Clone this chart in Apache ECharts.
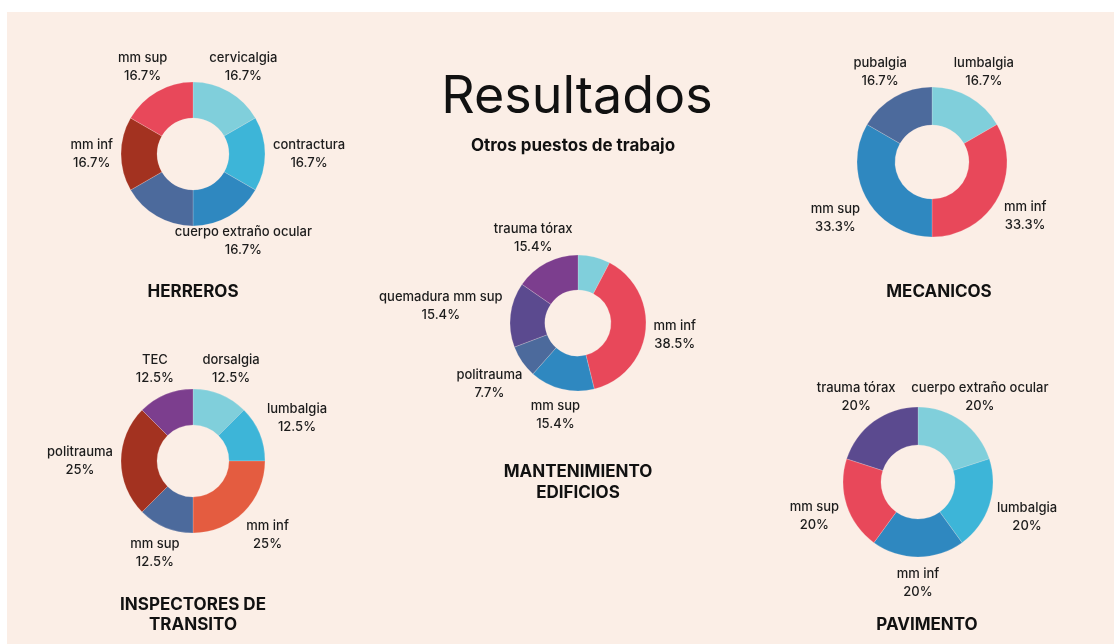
<!DOCTYPE html>
<html>
<head>
<meta charset="utf-8">
<script src="https://cdn.jsdelivr.net/npm/echarts@6/dist/echarts.min.js"></script>
<style>
  html, body { margin: 0; padding: 0; background: #ffffff; }
  #chart { position: absolute; left: 7px; top: 12px; width: 1107px; height: 632px; }
</style>
</head>
<body>
<div id="chart"></div>
<script>
// datos: numero de casos por lesion (el % se calcula abajo)
var herrerosNames = ['cervicalgia', 'contractura', 'cuerpo extraño ocular', '', 'mm inf', 'mm sup'];
var herrerosValues = [1, 1, 1, 1, 1, 1];

var mecanicosNames = ['lumbalgia', 'mm inf', 'mm sup', 'pubalgia'];
var mecanicosValues = [1, 2, 2, 1];

var mantenimientoNames = ['', 'mm inf', 'mm sup', 'politrauma', 'quemadura mm sup', 'trauma tórax'];
var mantenimientoValues = [1, 5, 2, 1, 2, 2];

var inspectoresNames = ['dorsalgia', 'lumbalgia', 'mm inf', 'mm sup', 'politrauma', 'TEC'];
var inspectoresValues = [1, 1, 2, 1, 2, 1];

var pavimentoNames = ['cuerpo extraño ocular', 'lumbalgia', 'mm inf', 'mm sup', 'trauma tórax'];
var pavimentoValues = [1, 1, 1, 1, 1];

// colores
var TEAL = '#80cfdb', CYAN = '#3db5d8', BLUE = '#2f88c0', SLATE = '#4c6a9c',
    DARKRED = '#a33220', RED = '#e8485a', ORANGE = '#e45c40', VIOLET = '#7c3e8e', INDIGO = '#5b4a8f';

var FONT = 'Inter, "Noto Sans", sans-serif';
var TEXT = '#1c1c1c';

var chart = echarts.init(document.getElementById('chart'));

function fmtPct(v, total) {
    var p = (v / total * 100).toFixed(1);
    if (p.slice(-2) === '.0') p = p.slice(0, -2);
    return p + '%';
}

// pone la etiqueta centrada sobre la bisectriz, justo fuera del anillo
function placeLabel(gap) {
    return function (params) {
        var pts = params.labelLinePoints;
        if (!pts || !params.labelRect) return {};
        var dx = pts[1][0] - pts[0][0], dy = pts[1][1] - pts[0][1];
        var len = Math.sqrt(dx * dx + dy * dy) || 1;
        dx /= len; dy /= len;
        var hw = params.labelRect.width / 2, hh = params.labelRect.height / 2;
        var a = Math.abs(dx) > 1e-6 ? hw / Math.abs(dx) : Infinity;
        var b = Math.abs(dy) > 1e-6 ? hh / Math.abs(dy) : Infinity;
        var d = Math.min(a, b) + gap;
        return {
            x: pts[0][0] + dx * d,
            y: pts[0][1] + dy * d,
            align: 'center',
            verticalAlign: 'middle'
        };
    };
}

function donut(names, values, colors, center, radius) {
    var total = values.reduce(function (s, v) { return s + v; }, 0);
    var data = [];
    for (var i = 0; i < names.length; i++) {
        var item = { name: names[i], value: values[i], itemStyle: { color: colors[i] } };
        if (names[i] === '') item.label = { show: false };
        data.push(item);
    }
    return {
        type: 'pie',
        center: center,
        radius: radius,
        startAngle: 90,
        clockwise: true,
        avoidLabelOverlap: false,
        silent: true,
        animation: false,
        itemStyle: { borderColor: 'rgba(251,238,230,0.35)', borderWidth: 0.6 },
        label: {
            show: true,
            position: 'outside',
            color: TEXT,
            fontFamily: FONT,
            fontSize: 13,
            fontWeight: 500,
            lineHeight: 18,
            formatter: function (p) {
                return p.name + '\n' + fmtPct(p.value, total);
            }
        },
        labelLine: { show: true, length: 10, length2: 0, lineStyle: { opacity: 0 } },
        labelLayout: placeLabel(8),
        data: data
    };
}

function heading(text, x, y, size, weight, lh) {
    return {
        type: 'text',
        x: x,
        y: y,
        silent: true,
        style: {
            text: text,
            align: 'center',
            verticalAlign: 'middle',
            fill: '#111111',
            fontFamily: FONT,
            fontSize: size,
            fontWeight: weight,
            lineHeight: lh || size
        }
    };
}

chart.setOption({
    backgroundColor: '#fbeee6',
    series: [
        donut(herrerosNames, herrerosValues, [TEAL, CYAN, BLUE, SLATE, DARKRED, RED], [186, 142], [36, 72]),
        donut(mecanicosNames, mecanicosValues, [TEAL, RED, BLUE, SLATE], [925, 150], [37, 75]),
        donut(mantenimientoNames, mantenimientoValues, [TEAL, RED, BLUE, SLATE, INDIGO, VIOLET], [571, 311], [33, 68]),
        donut(inspectoresNames, inspectoresValues, [TEAL, CYAN, ORANGE, SLATE, DARKRED, VIOLET], [186, 449], [36, 72]),
        donut(pavimentoNames, pavimentoValues, [TEAL, CYAN, BLUE, RED, INDIGO], [911, 470], [37, 75])
    ],
    graphic: [
        heading('Resultados', 570, 85, 52, 'normal'),
        heading('Otros puestos de trabajo', 566, 134, 17, 'bold'),
        heading('HERREROS', 186, 280, 17, 'bold'),
        heading('MECANICOS', 932, 280, 17, 'bold'),
        heading('MANTENIMIENTO\nEDIFICIOS', 571, 470, 17, 'bold', 21),
        heading('INSPECTORES DE\nTRANSITO', 186, 603, 17, 'bold', 20),
        heading('PAVIMENTO', 920, 613, 17, 'bold')
    ]
});
</script>
</body>
</html>
